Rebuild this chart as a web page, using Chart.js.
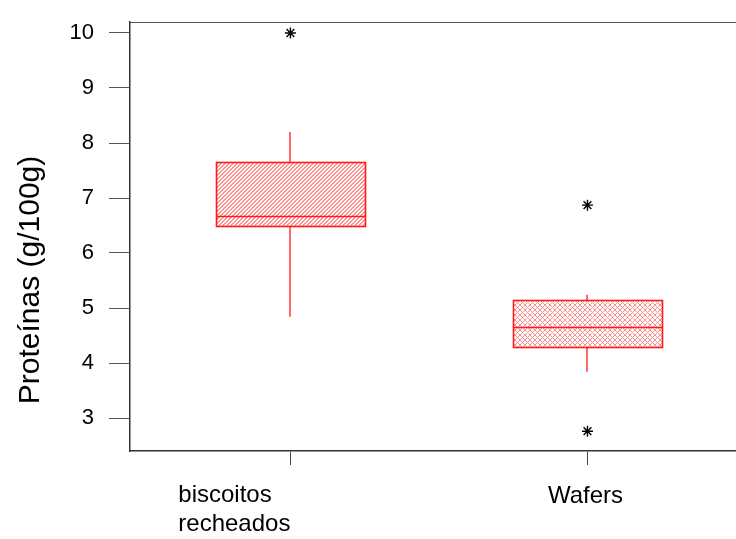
<!DOCTYPE html>
<html>
<head>
<meta charset="utf-8">
<title>Proteínas</title>
<script src="https://cdn.jsdelivr.net/npm/chart.js@4/dist/chart.umd.min.js"></script>
<style>
  html, body { margin: 0; padding: 0; background: #fff; overflow: hidden; }
  #wrap { width: 736px; height: 539px; position: relative; }
</style>
</head>
<body>
<div id="wrap"><canvas id="boxChart"></canvas></div>
<script>
const categories = [['biscoitos', 'recheados'], ['Wafers']];
const whiskerLow = [4.84, 3.84];
const q1 = [6.49, 4.29];
const median = [6.67, 4.65];
const q3 = [7.65, 5.15];
const whiskerHigh = [8.20, 5.24];
const outliers = [[10.0], [6.87, 2.76]];
const yTicks = [3, 4, 5, 6, 7, 8, 9, 10];

const FONT = '"Liberation Sans", Arial, Helvetica, sans-serif';
const RED = '#ff1a1a';
const HATCH = '#ff9090';

// hatch tiles: single diagonal for the first box, cross-hatch for the second
function makePattern(ctx, cross) {
  const size = cross ? 5 : 4;
  const c = document.createElement('canvas');
  c.width = size; c.height = size;
  const g = c.getContext('2d');
  g.fillStyle = HATCH;
  for (let i = 0; i < size; i++) {
    const j = size - 1 - i;
    if (cross) {
      g.fillRect(i, j, 1, 1);
      g.fillRect(i, i, 1, 1);
    } else {
      g.fillRect(i, j, 1, 1);
      g.fillRect((i + 1) % size, j, 1, 1);
    }
  }
  return ctx.createPattern(c, 'repeat');
}

const boxPlugin = {
  id: 'boxes',
  beforeDatasetsDraw(chart) {
    const { ctx, scales: { x, y } } = chart;
    const half = 0.25;
    ctx.save();
    categories.forEach((_, i) => {
      const cx = x.getPixelForValue(i + 1);
      const l = Math.round(x.getPixelForValue(i + 1 - half)) + 0.5;
      const r = Math.round(x.getPixelForValue(i + 1 + half)) + 0.5;
      const top = Math.round(y.getPixelForValue(q3[i])) + 0.5;
      const bot = Math.round(y.getPixelForValue(q1[i])) + 0.5;
      const med = Math.round(y.getPixelForValue(median[i])) + 0.5;
      const px = Math.round(cx);

      ctx.fillStyle = makePattern(ctx, i === 1);
      ctx.fillRect(l, top, r - l, bot - top);

      ctx.strokeStyle = RED;
      ctx.lineWidth = 1.6;
      ctx.strokeRect(l, top, r - l, bot - top);
      ctx.beginPath();
      ctx.moveTo(l, med); ctx.lineTo(r, med);
      ctx.stroke();

      // whiskers
      ctx.lineWidth = 1.3;
      ctx.beginPath();
      ctx.moveTo(px, y.getPixelForValue(whiskerHigh[i])); ctx.lineTo(px, top);
      ctx.moveTo(px, bot); ctx.lineTo(px, y.getPixelForValue(whiskerLow[i]));
      ctx.stroke();
    });
    ctx.restore();
  },
  afterDraw(chart) {
    const { ctx, chartArea: a, scales: { x } } = chart;
    ctx.save();
    // frame top edge
    ctx.strokeStyle = '#555';
    ctx.lineWidth = 1.2;
    ctx.beginPath();
    ctx.moveTo(a.left, a.top + 0.5); ctx.lineTo(a.right, a.top + 0.5);
    ctx.stroke();

    // category labels
    ctx.fillStyle = '#000';
    ctx.font = '24px ' + FONT;
    ctx.textBaseline = 'alphabetic';
    categories.forEach((lines, i) => {
      const cx = x.getPixelForValue(i + 1);
      if (lines.length > 1) {
        const w = Math.max(...lines.map(t => ctx.measureText(t).width));
        ctx.textAlign = 'left';
        lines.forEach((t, k) => ctx.fillText(t, cx - w, a.bottom + 51 + k * 29));
      } else {
        ctx.textAlign = 'center';
        ctx.fillText(lines[0], cx - 2, a.bottom + 52);
      }
    });

    // axis title
    ctx.font = '30px ' + FONT;
    ctx.textAlign = 'center';
    ctx.textBaseline = 'middle';
    ctx.translate(31, 280);
    ctx.rotate(-Math.PI / 2);
    ctx.fillText('Proteínas (g/100g)', 0, 0);
    ctx.restore();
  }
};

const outlierPoints = [];
outliers.forEach((vals, i) => vals.forEach(v => outlierPoints.push({ x: i + 1, y: v })));

new Chart(document.getElementById('boxChart'), {
  type: 'scatter',
  data: {
    datasets: [{
      label: 'outliers',
      data: outlierPoints,
      pointStyle: 'star',
      radius: 5.5,
      borderColor: '#000',
      backgroundColor: '#000',
      borderWidth: 1.4
    }]
  },
  options: {
    responsive: true,
    maintainAspectRatio: false,
    animation: false,
    layout: { autoPadding: false, padding: { top: 22, right: 0, left: 0, bottom: 0 } },
    plugins: { legend: { display: false }, tooltip: { enabled: false } },
    scales: {
      x: {
        type: 'linear',
        min: 0.46,
        max: 2.5,
        afterBuildTicks: s => { s.ticks = [1, 2].map(v => ({ value: v })); },
        afterFit: s => { s.height = 88; s.paddingLeft = 0; s.paddingRight = 0; },
        ticks: { display: false },
        grid: { drawOnChartArea: false, tickLength: 14, tickColor: '#444', tickWidth: 1 },
        border: { color: '#333', width: 1.5 }
      },
      y: {
        min: 2.4,
        max: 10.2,
        afterBuildTicks: s => { s.ticks = yTicks.map(v => ({ value: v })); },
        afterFit: s => { s.width = 130; s.paddingTop = 0; s.paddingBottom = 0; },
        ticks: { color: '#000', font: { size: 22, family: FONT }, padding: 15 },
        grid: { drawOnChartArea: false, tickLength: 21, tickColor: '#555', tickWidth: 1 },
        border: { color: '#333', width: 1.5 }
      }
    }
  },
  plugins: [boxPlugin]
});
</script>
</body>
</html>
